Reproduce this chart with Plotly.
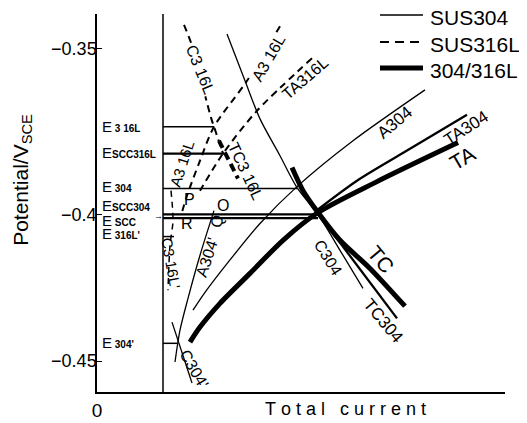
import plotly.graph_objects as go

FONT = "Liberation Sans, Arial, Helvetica, sans-serif"

# ---------------- data (x: total current, arbitrary units; y: potential / V vs SCE) ----
zero_x = [66, 66]
zero_v = [-0.3388, -0.4599]

level_names = ["E316L", "Escc316L", "E304", "Escc304", "Escc", "E316L'", "E304'"]
level_v = [-0.3749, -0.3835, -0.3947, -0.4030, -0.4042, -0.4101, -0.4443]
level_end = [117, 127, 200, 221, 221, 77, 80]

c316l_x = [87, 96, 103, 109, 114, 117, 126]
c316l_v = [-0.3423, -0.3498, -0.3586, -0.3660, -0.3720, -0.3749, -0.3835]

a316l_x = [183, 150, 117, 103, 90, 84]
a316l_v = [-0.3427, -0.3602, -0.3749, -0.3858, -0.3970, -0.4034]

ta316l_x = [215, 160, 126, 103]
ta316l_v = [-0.3530, -0.3698, -0.3835, -0.3954]

tc316l_x = [122, 141]
tc316l_v = [-0.3794, -0.3915]

c316lp_x = [74, 76, 73, 71]
c316lp_v = [-0.3954, -0.4050, -0.4129, -0.4273]

c304_x = [130, 148, 163, 183, 200, 221, 243, 266]
c304_v = [-0.3452, -0.3602, -0.3724, -0.3842, -0.3944, -0.4030, -0.4145, -0.4267]

a304_x = [328, 256, 200, 163, 131, 108, 96]
a304_v = [-0.3631, -0.3794, -0.3941, -0.4059, -0.4184, -0.4280, -0.4337]

tc304_x = [221, 300]
tc304_v = [-0.4027, -0.4363]

ta304_x = [221, 260, 313, 370]
ta304_v = [-0.4014, -0.3922, -0.3820, -0.3711]

a304p_x = [117, 103, 91, 83, 78]
a304p_v = [-0.4018, -0.4161, -0.4299, -0.4401, -0.4503]

c304p_x = [75, 95]
c304p_v = [-0.4375, -0.4570]

tc_x = [195, 206, 221, 243, 273, 308]
tc_v = [-0.3880, -0.3954, -0.4024, -0.4113, -0.4203, -0.4324]

ta_x = [93, 103, 123, 153, 186, 221, 280, 361]
ta_v = [-0.4439, -0.4391, -0.4315, -0.4219, -0.4113, -0.4024, -0.3925, -0.3800]

y_tick_vals = [-0.35, -0.403, -0.45]
y_tick_text = ["\u22120.35", "\u22120.4", "\u22120.45"]

legend_names = ["SUS304", "SUS316L", "304/316L"]

# ---------------- styles ----------------
THIN = dict(color="black", width=1.3)
DASH = dict(color="black", width=2, dash="7px,5px")
THICK = dict(color="black", width=5)
MED = dict(color="black", width=2.3)

fig = go.Figure()

def add(x, y, line, name=None, shape="linear"):
    ln = dict(line)
    ln["shape"] = shape
    if shape == "spline":
        ln["smoothing"] = 0.8
    fig.add_trace(go.Scatter(x=x, y=y, mode="lines", line=ln, name=name,
                             showlegend=False, hoverinfo="skip"))

add(zero_x, zero_v, dict(color="black", width=1.5))
for nm, v, e in zip(level_names, level_v, level_end):
    w = 2.2 if nm.startswith("Escc3") or nm == "Escc" else 1.5
    add([66, e], [v, v], dict(color="black", width=w), nm)

add(c316l_x, c316l_v, DASH, "C316L", "spline")
add(a316l_x, a316l_v, DASH, "A316L", "spline")
add(ta316l_x, ta316l_v, DASH, "TA316L", "spline")
add(tc316l_x, tc316l_v, dict(color="black", width=4, dash="8px,5px"), "TC316L")
add(c316lp_x, c316lp_v, dict(color="black", width=1.5, dash="6px,5px"), "C316L'", "spline")
add(c304_x, c304_v, THIN, "C304", "spline")
add(a304_x, a304_v, THIN, "A304", "spline")
add(tc304_x, tc304_v, MED, "TC304")
add(ta304_x, ta304_v, MED, "TA304", "spline")
add(a304p_x, a304p_v, THIN, "A304'", "spline")
add(c304p_x, c304p_v, THIN, "C304'")
add(tc_x, tc_v, THICK, "TC", "spline")
add(ta_x, ta_v, THICK, "TA", "spline")

# ---------------- labels ----------------
def lab(x, y, text, ang=0, size=16, bg=None):
    fig.add_annotation(x=x, y=y, text=text, textangle=ang, showarrow=False,
                       xanchor="center", yanchor="middle", bgcolor=bg, borderpad=0,
                       font=dict(family=FONT, size=size, color="black"))

lab(103, -0.3567, "C3 16L", 68, 16, "white")
lab(171, -0.3529, "A3 16L", -60, 16, "white")
lab(208, -0.3596, "TA316L", -41, 16)
lab(148, -0.3890, "TC3 16L", 65, 16)
lab(85, -0.3867, "A3 16L", -72, 15)
lab(92, -0.3982, "P", 0, 16)
lab(126, -0.4002, "O", 0, 16)
lab(120, -0.4053, "Q", -70, 16)
lab(90, -0.4060, "R", 0, 16)
lab(74, -0.4184, "C3 16L'", 80, 15)
lab(110, -0.4168, "A304'", -72, 16)
lab(97, -0.4523, "C304'", 60, 16)
lab(298, -0.3736, "A304", -40, 17)
lab(369, -0.3756, "TA304", -33, 17)
lab(365, -0.3851, "TA", -30, 21)
lab(284, -0.4174, "TC", 50, 21)
lab(231, -0.4168, "C304", 58, 16)
lab(286, -0.4369, "TC304", 50, 17)
lab(61, -0.4034, "\u2192", 0, 9)

def elab(y, sub, sz=15):
    fig.add_annotation(x=3, y=y, xanchor="left", yanchor="middle", showarrow=False,
                       text="E<span style='font-size:10px'><b>" + sub + "</b></span>",
                       font=dict(family=FONT, size=sz, color="black"))

elab(-0.3749, "&nbsp;3 16L")
elab(-0.3832, "SCC316L")
elab(-0.3941, "&nbsp;304")
elab(-0.4002, "SCC304")
elab(-0.4050, "&nbsp;SCC")
elab(-0.4091, "&nbsp;316L'")
elab(-0.4439, "&nbsp;304'")

# ---------------- legend (drawn in paper coordinates) ----------------
leg_styles = [dict(color="black", width=1.5),
              dict(color="black", width=2, dash="9px,6px"),
              dict(color="black", width=5)]
leg_y = [0.9974, 0.9259, 0.8571]
for nm, st, yy in zip(legend_names, leg_styles, leg_y):
    fig.add_shape(type="line", xref="paper", yref="paper", x0=0.6936, x1=0.799,
                  y0=yy, y1=yy, line=st)
    fig.add_annotation(xref="paper", yref="paper", x=0.8113, y=yy - 0.006, xanchor="left",
                       yanchor="middle", text=nm, showarrow=False,
                       font=dict(family=FONT, size=21, color="black"))

# axis titles
fig.add_annotation(xref="paper", yref="paper", x=-0.184, y=0.561, textangle=-90,
                   xanchor="center", yanchor="middle",
                   text="Potential/V<sub>SCE</sub>", showarrow=False,
                   font=dict(family=FONT, size=21, color="black"))
fig.add_annotation(xref="paper", yref="paper", x=0.61, y=-0.045, xanchor="center",
                   yanchor="middle",
                   text="T\u00a0o\u00a0t\u00a0a\u00a0l\u00a0\u00a0\u00a0c\u00a0u\u00a0r\u00a0r\u00a0e\u00a0n\u00a0t",
                   showarrow=False, font=dict(family=FONT, size=18, color="black"))

# page body adds an 8px offset, so the figure is 8px smaller and margins shifted
fig.update_layout(
    width=519, height=415,
    margin=dict(l=89, r=22, t=6, b=31, autoexpand=False),
    paper_bgcolor="white", plot_bgcolor="white",
    showlegend=False,
    xaxis=dict(range=[0, 408], showline=True, linecolor="black", linewidth=1.5,
               showgrid=False, zeroline=False, tickvals=[0], ticktext=["0"], ticks="",
               tickfont=dict(family=FONT, size=19, color="black")),
    yaxis=dict(range=[-0.4599, -0.3388], showline=True, linecolor="black", linewidth=1.5,
               showgrid=False, zeroline=False, tickvals=y_tick_vals, ticktext=y_tick_text,
               ticks="inside", ticklen=5, tickcolor="black", ticklabelstandoff=-5,
               tickfont=dict(family=FONT, size=18, color="black")),
)

fig.write_html("out.html")
